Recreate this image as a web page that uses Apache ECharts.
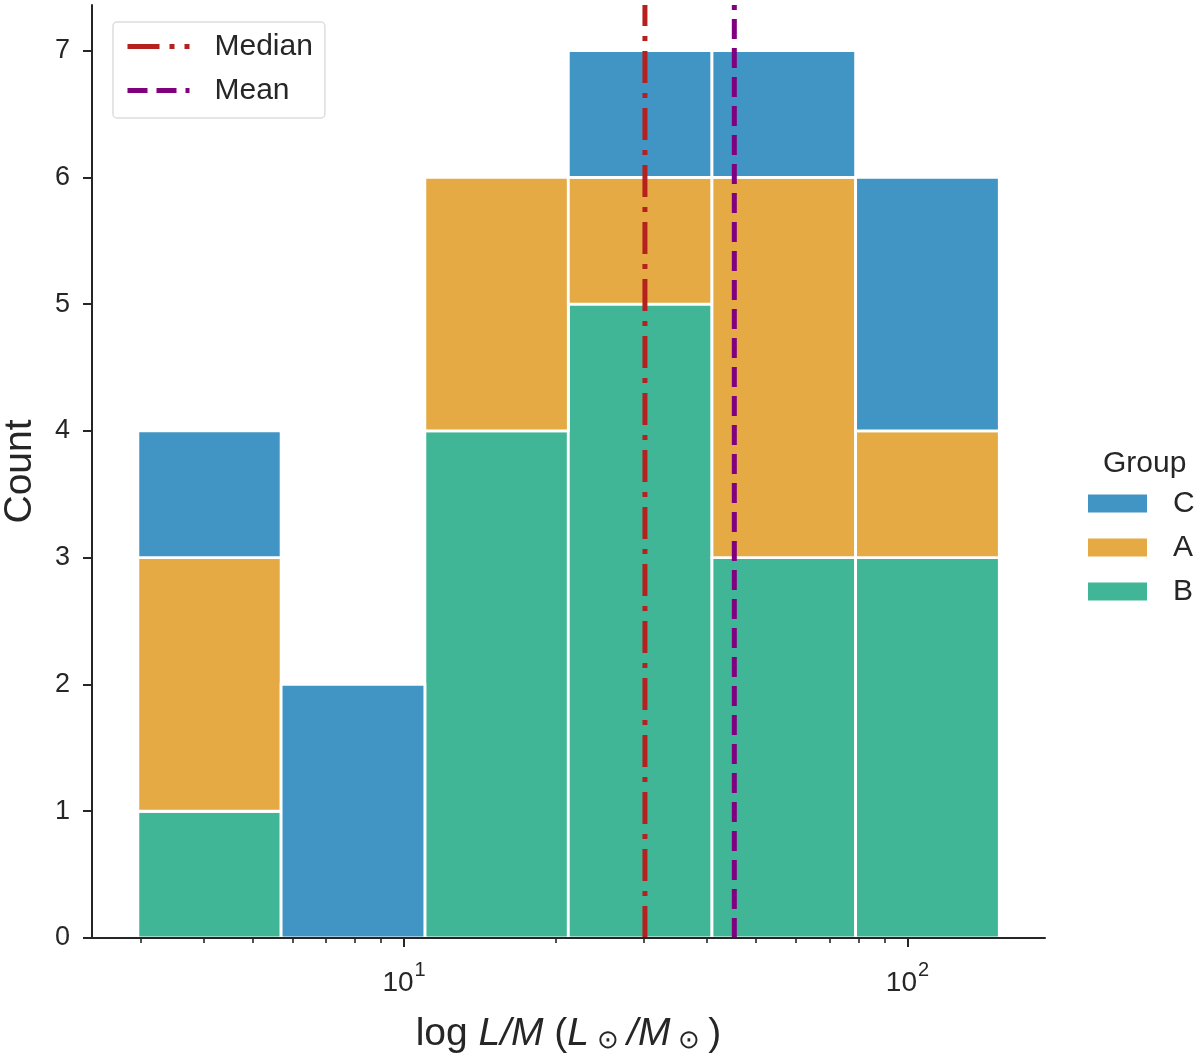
<!DOCTYPE html>
<html>
<head>
  <meta charset="utf-8">
  <title>ECharts</title>
  <script src="https://cdn.jsdelivr.net/npm/echarts@6/dist/echarts.min.js"></script>
  <style>
    html, body { margin: 0; padding: 0; background: #fff; }
  </style>
</head>
<body>
<div id="main" style="width: 1200px;height:1060px;"></div>
<script type="text/javascript">
  // bin edges (L/M), counts per group, stacked bottom -> top: B, A, C
  var binEdges = [2.96, 5.70, 11.0, 21.2, 40.9, 78.9, 152.2];
  var countsB = [1, 0, 4, 5, 3, 3];
  var countsA = [2, 0, 2, 1, 3, 1];
  var countsC = [1, 2, 0, 1, 1, 2];
  var medianValue = 30.1;
  var meanValue = 45.3;
  var xMajorTicks = [10, 100];
  var xMinorTicks = [3, 4, 5, 6, 7, 8, 9, 20, 30, 40, 50, 60, 70, 80, 90];
  var yTicks = [0, 1, 2, 3, 4, 5, 6, 7];
  var xRange = [2.40, 187.6];
  var yMax = 7.36;

  var font = "'Liberation Sans', Arial, sans-serif";
  var ink = '#262626';

  var lg = Math.log10;

  // build stacked rect data [x0, x1, y0, y1]
  function buildStack(counts, below) {
    var out = [];
    for (var i = 0; i < counts.length; i++) {
      var b = 0;
      for (var j = 0; j < below.length; j++) b += below[j][i];
      if (counts[i] > 0) out.push([lg(binEdges[i]), lg(binEdges[i + 1]), b, b + counts[i]]);
    }
    return out;
  }

  function renderBar(params, api) {
    var p0 = api.coord([api.value(0), api.value(2)]);
    var p1 = api.coord([api.value(1), api.value(3)]);
    return {
      type: 'rect',
      shape: { x: p0[0], y: p1[1], width: p1[0] - p0[0], height: p0[1] - p1[1] },
      style: { fill: api.visual('color'), stroke: '#ffffff', lineWidth: 2.8 }
    };
  }

  function barSeries(name, color, data) {
    return {
      name: name,
      type: 'custom',
      renderItem: renderBar,
      itemStyle: { color: color },
      encode: { x: [0, 1], y: [2, 3] },
      data: data,
      z: 2
    };
  }

  var chartDom = document.getElementById('main');
  var myChart = echarts.init(chartDom);

  var option = {
    animation: false,
    textStyle: { fontFamily: font, color: ink },
    grid: { left: 92, right: 155, top: 5, bottom: 122, outerBoundsMode: 'none', containLabel: false },
    title: {
      text: 'Group',
      left: 1098,
      top: 444,
      textStyle: { fontFamily: font, fontSize: 30, fontWeight: 'normal', color: ink }
    },
    legend: [
      {
        data: ['Median', 'Mean'],
        orient: 'vertical',
        left: 113,
        top: 22,
        padding: [9, 12, 12, 12],
        itemWidth: 62,
        itemHeight: 14,
        itemGap: 13,
        itemStyle: { opacity: 0, borderWidth: 0 },
        lineStyle: { width: 5 },
        borderColor: '#dddddd',
        borderWidth: 1.5,
        borderRadius: 4,
        textStyle: { fontFamily: font, fontSize: 30, color: ink, padding: [0, 0, 0, 20], lineHeight: 31 }
      },
      {
        data: ['C', 'A', 'B'],
        orient: 'vertical',
        left: 1088,
        top: 488,
        padding: 0,
        icon: 'rect',
        itemWidth: 59,
        itemHeight: 18,
        itemGap: 13,
        textStyle: { fontFamily: font, fontSize: 30, color: ink, padding: [0, 0, 0, 21], lineHeight: 31 }
      }
    ],
    xAxis: [
      {
        type: 'value',
        position: 'bottom',
        min: lg(xRange[0]),
        max: lg(xRange[1]),
        z: 5,
        splitLine: { show: false },
        axisLine: { show: true, lineStyle: { color: ink, width: 2 } },
        axisTick: { show: true, length: 9, lineStyle: { color: ink, width: 2 }, customValues: xMajorTicks.map(lg) },
        axisLabel: {
          customValues: xMajorTicks.map(lg),
          margin: 19,
          formatter: function (v) { return '{b|10}{sup|' + Math.round(v) + '}'; },
          rich: {
            b: { fontFamily: font, fontSize: 28, color: ink, padding: [12, 0, 0, 0] },
            sup: { fontFamily: font, fontSize: 20, color: ink, padding: [0, 0, 14, 1] }
          },
          fontFamily: font, fontSize: 28, color: ink
        },
        name: 'log {i|L/M} ({i|L}{s|⊙}{i|/M}{s|⊙})',
        nameLocation: 'middle',
        nameGap: 76,
        nameTextStyle: {
          fontFamily: font, fontSize: 39, color: ink,
          rich: {
            i: { fontFamily: font, fontSize: 39, fontStyle: 'italic', color: ink },
            s: { fontFamily: font, fontSize: 26, color: ink, padding: [14, 8, 0, 8] }
          }
        }
      },
      {
        type: 'value',
        position: 'bottom',
        min: lg(xRange[0]),
        max: lg(xRange[1]),
        z: 5,
        splitLine: { show: false },
        axisLine: { show: false },
        axisTick: { show: true, length: 5, lineStyle: { color: ink, width: 1.6 }, customValues: xMinorTicks.map(lg) },
        axisLabel: { show: false }
      }
    ],
    yAxis: {
      type: 'value',
      min: 0,
      max: yMax,
      z: 5,
      splitLine: { show: false },
      axisLine: { show: true, lineStyle: { color: ink, width: 2 } },
      axisTick: { show: true, length: 9, lineStyle: { color: ink, width: 2 }, customValues: yTicks },
      axisLabel: { customValues: yTicks, margin: 22, fontFamily: font, fontSize: 27, color: ink },
      name: 'Count',
      nameLocation: 'middle',
      nameGap: 52,
      nameTextStyle: { fontFamily: font, fontSize: 39, color: ink }
    },
    series: [
      barSeries('B', '#41b697', buildStack(countsB, [])),
      barSeries('A', '#e5aa43', buildStack(countsA, [countsB])),
      barSeries('C', '#4195c5', buildStack(countsC, [countsB, countsA])),
      {
        name: 'Median',
        type: 'line',
        symbol: 'none',
        z: 4,
        color: '#b5211f',
        lineStyle: { color: '#b5211f', width: 5, type: [32, 10, 5, 10] },
        data: [[lg(medianValue), 0], [lg(medianValue), yMax]]
      },
      {
        name: 'Mean',
        type: 'line',
        symbol: 'none',
        z: 4,
        color: '#800080',
        lineStyle: { color: '#800080', width: 5, type: [20, 9] },
        data: [[lg(meanValue), 0], [lg(meanValue), yMax]]
      }
    ]
  };

  option && myChart.setOption(option);
</script>
</body>
</html>
